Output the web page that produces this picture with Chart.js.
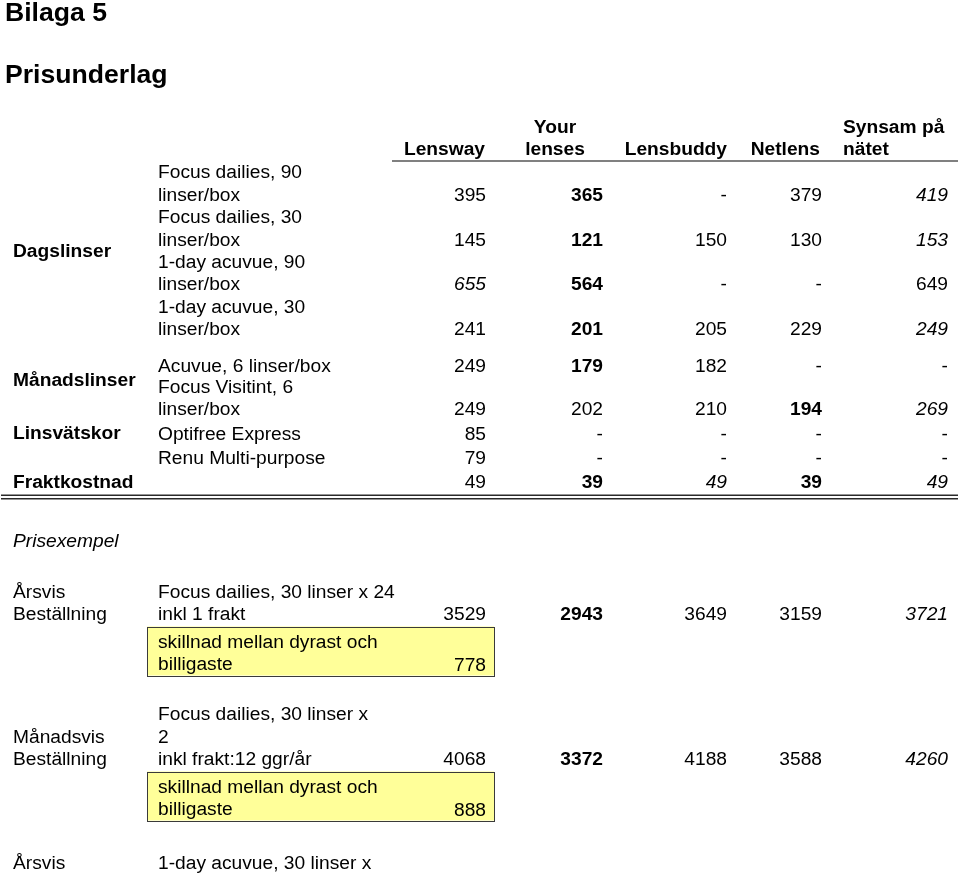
<!DOCTYPE html>
<html lang="sv">
<head>
<meta charset="utf-8">
<title>Bilaga 5 - Prisunderlag</title>
<script src="https://cdn.jsdelivr.net/npm/chart.js@4/dist/chart.umd.min.js"></script>
<style>
  html, body { margin: 0; padding: 0; background: #fff; }
  #priceTable { display: block; }
</style>
</head>
<body>
<canvas id="priceTable" width="960" height="874"></canvas>
<script>
// Butiker (kolumner)
const suppliers = ['Lensway', 'Your\nlenses', 'Lensbuddy', 'Netlens', 'Synsam på\nnätet'];

// Produktgrupper och produkter
const categories = ['Dagslinser', 'Månadslinser', 'Linsvätskor', 'Fraktkostnad'];
const products = [
    'Focus dailies, 90\nlinser/box',
    'Focus dailies, 30\nlinser/box',
    '1-day acuvue, 90\nlinser/box',
    '1-day acuvue, 30\nlinser/box',
    'Acuvue, 6 linser/box',
    'Focus Visitint, 6\nlinser/box',
    'Optifree Express',
    'Renu Multi-purpose',
    ''
];

// Priser i kr (null = "-")
const lensway    = [395, 145, 655, 241, 249, 249, 85, 79, 49];
const yourLenses = [365, 121, 564, 201, 179, 202, null, null, 39];
const lensbuddy  = [null, 150, null, 205, 182, 210, null, null, 49];
const netlens    = [379, 130, null, 229, null, 194, null, null, 39];
const synsam     = [419, 153, 649, 249, null, 269, null, null, 49];

// Prisexempel
const exampleLabels = ['Årsvis\nBeställning', 'Månadsvis\nBeställning', 'Årsvis'];
const exampleTexts = [
    'Focus dailies, 30 linser x 24\ninkl 1 frakt',
    'Focus dailies, 30 linser x\n2\ninkl frakt:12 ggr/år',
    '1-day acuvue, 30 linser x'
];
const exLensway    = [3529, 4068];
const exYourLenses = [2943, 3372];
const exLensbuddy  = [3649, 4188];
const exNetlens    = [3159, 3588];
const exSynsam     = [3721, 4260];
const priceGap     = [778, 888];

// --- layout & stil ---
const FONT = '"Liberation Sans", Arial, Helvetica, sans-serif';
const SIZE = 19.2;
const LINE = 22.4;
const colRight = [486, 603, 727, 822, 948];
const rowBase = [200.5, 245.5, 290, 335, 372, 415, 440, 464, 487.5];
const categoryBase = [256.5, 386, 439, 488];
const exampleBase = [620, 765, 869];

// b = fet (billigast), i = kursiv (dyrast)
const cellStyle = [
    ['', 'b', '', '', 'i'],
    ['', 'b', '', '', 'i'],
    ['i', 'b', '', '', ''],
    ['', 'b', '', '', 'i'],
    ['', 'b', '', '', ''],
    ['', '', '', 'b', 'i'],
    ['', '', '', '', ''],
    ['', '', '', '', ''],
    ['', 'b', 'i', 'b', 'i']
];
const exampleStyle = [
    ['', 'b', '', '', 'i'],
    ['', 'b', '', '', 'i']
];

const priceColumns = [lensway, yourLenses, lensbuddy, netlens, synsam];
const exampleColumns = [exLensway, exYourLenses, exLensbuddy, exNetlens, exSynsam];

const datasets = suppliers.map((name, j) => {
    const rows = rowBase.map(y => ({ x: colRight[j], y: y }));
    const ex = exampleColumns[j].map((v, k) => ({ x: colRight[j], y: exampleBase[k] }));
    return {
        label: name.replace('\n', ' '),
        data: rows.concat(ex),
        values: priceColumns[j].concat(exampleColumns[j]),
        styles: cellStyle.map(r => r[j]).concat(exampleStyle.map(r => r[j])),
        pointRadius: 0,
        pointHoverRadius: 0
    };
});

function font(style, size) {
    let f = '';
    if (style === 'i') f = 'italic ';
    if (style === 'b') f = 'bold ';
    return f + (size || SIZE) + 'px ' + FONT;
}

function drawText(chart, str, x, y, style, align, size) {
    const ctx = chart.ctx;
    const sx = chart.scales.x, sy = chart.scales.y;
    ctx.font = font(style, size);
    ctx.textAlign = align || 'left';
    ctx.textBaseline = 'alphabetic';
    ctx.fillStyle = '#000';
    str.split('\n').forEach((line, k) => {
        ctx.fillText(line, sx.getPixelForValue(x), sy.getPixelForValue(y + k * LINE));
    });
}

// text vars sista rad slutar på baslinjen "y"
function drawUp(chart, str, x, y, style, align) {
    const n = str.split('\n').length;
    drawText(chart, str, x, y - (n - 1) * LINE, style, align);
}

function rect(chart, x0, y0, x1, y1, fill, stroke) {
    const ctx = chart.ctx;
    const sx = chart.scales.x, sy = chart.scales.y;
    const px = sx.getPixelForValue(x0), py = sy.getPixelForValue(y0);
    const w = sx.getPixelForValue(x1) - px, h = sy.getPixelForValue(y1) - py;
    ctx.fillStyle = fill;
    ctx.fillRect(px, py, w, h);
    if (stroke) {
        ctx.strokeStyle = stroke;
        ctx.lineWidth = 1;
        ctx.strokeRect(Math.round(px) + 0.5, Math.round(py) + 0.5, Math.round(w), Math.round(h));
    }
}

const tablePlugin = {
    id: 'priceTable',
    beforeDatasetsDraw(chart) {
        // linje under rubriker
        rect(chart, 392, 160, 958, 162, '#808080');
        // dubbel linje under fraktkostnad
        rect(chart, 1, 494.5, 958, 496, '#2a2a2a');
        rect(chart, 1, 498, 958, 499.5, '#2a2a2a');
        // gula rutor
        priceGap.forEach((v, k) => {
            const y = exampleBase[k];
            rect(chart, 147, y + 6.5, 494, y + 55.5, '#ffff99', '#3a3a3a');
        });
    },
    afterDatasetsDraw(chart) {
        drawText(chart, 'Bilaga 5', 5, 21, 'b', 'left', 26.6);
        drawText(chart, 'Prisunderlag', 5, 83, 'b', 'left', 26.6);

        // rubriker
        const headAlign = ['right', 'center', 'right', 'right', 'left'];
        const headX = [485, 555, 727, 820, 843];
        suppliers.forEach((s, j) => drawUp(chart, s, headX[j], 155, 'b', headAlign[j]));

        categories.forEach((c, i) => drawText(chart, c, 13, categoryBase[i], 'b'));
        products.forEach((p, i) => drawUp(chart, p, 158, rowBase[i], ''));

        // prisexempel
        drawText(chart, 'Prisexempel', 13, 547, 'i');
        exampleLabels.forEach((l, k) => drawUp(chart, l, 13, exampleBase[k], ''));
        exampleTexts.forEach((t, k) => drawUp(chart, t, 158, exampleBase[k], ''));
        priceGap.forEach((v, k) => {
            const top = exampleBase[k] + 6.5;
            drawText(chart, 'skillnad mellan dyrast och\nbilligaste', 158, top + 21, '');
            drawText(chart, String(v), 486, top + 44, '', 'right');
        });

        // priser, placerade av Chart.js skalor
        const ctx = chart.ctx;
        chart.data.datasets.forEach((ds, j) => {
            const meta = chart.getDatasetMeta(j);
            meta.data.forEach((pt, k) => {
                const v = ds.values[k];
                ctx.font = font(v == null ? '' : ds.styles[k]);
                ctx.textAlign = 'right';
                ctx.textBaseline = 'alphabetic';
                ctx.fillStyle = '#000';
                ctx.fillText(v == null ? '-' : String(v), pt.x, pt.y);
            });
        });
    }
};

window.onload = function() {
    const ctx = document.getElementById('priceTable').getContext('2d');
    new Chart(ctx, {
        type: 'scatter',
        data: { datasets: datasets },
        options: {
            responsive: false,
            animation: false,
            layout: { padding: 0 },
            plugins: { legend: { display: false }, tooltip: { enabled: false } },
            scales: {
                x: { type: 'linear', min: 0, max: 960, display: false },
                y: { type: 'linear', min: 0, max: 874, reverse: true, display: false }
            }
        },
        plugins: [tablePlugin]
    });
};
</script>
</body>
</html>
